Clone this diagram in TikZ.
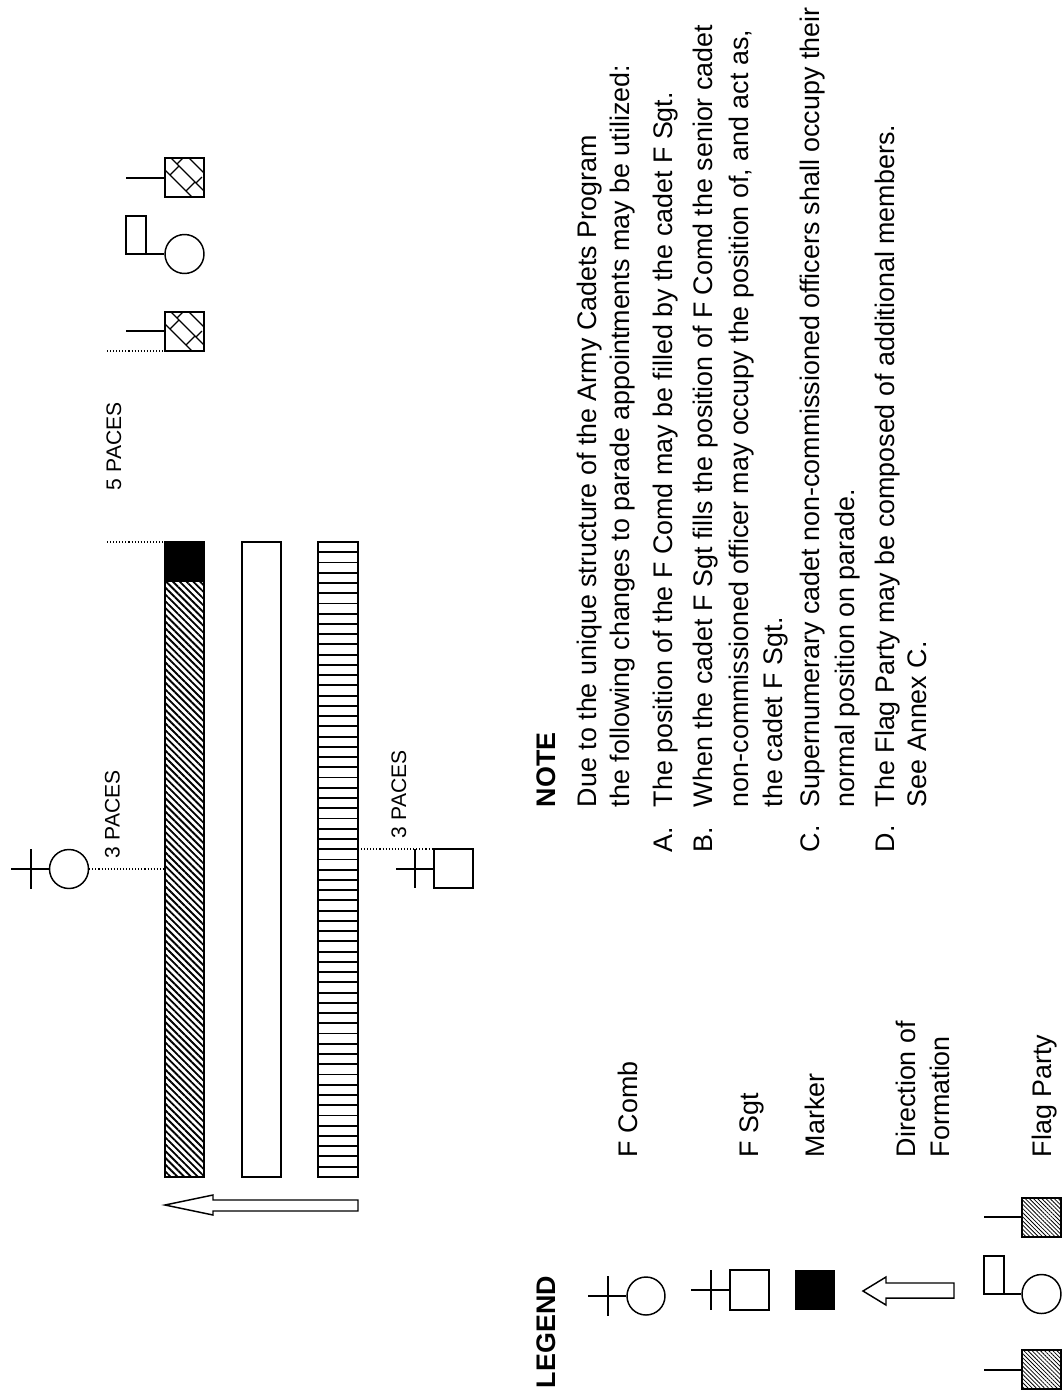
\documentclass[tikz,border=0pt]{standalone}
\usepackage{fontspec}
\setmainfont{Liberation Sans}
\usetikzlibrary{patterns.meta}
\newcommand\flagsq[2]{%
  \begin{scope}
    \clip (#1,#2) rectangle ++(39,39);
    \draw[line width=1pt] (#1+6,#2) -- ++(33,33);
    \draw[line width=1pt] (#1+24,#2) -- ++(15,15);
    \draw[line width=1pt] (#1,#2+12) -- ++(27,27);
    \draw[line width=1pt] (#1+12,#2+6) -- (#1+18,#2);
    \draw[line width=1pt] (#1+31,#2+25) -- (#1+37,#2+19);
    \draw[line width=1pt] (#1+14,#2+8) -- (#1+5,#2+17);
    \draw[line width=1pt] (#1+30,#2+24) -- (#1+21,#2+33);
  \end{scope}
  \draw (#1,#2) rectangle ++(39,39);}
\begin{document}
\begin{tikzpicture}[x=0.75pt,y=-0.75pt,line width=1.1pt,
  txt/.style={inner sep=0pt,outer sep=0pt,rotate=90,anchor=base west,font=\fontsize{20.14pt}{24pt}\selectfont},
  btxt/.style={txt,font=\fontsize{20.14pt}{24pt}\selectfont\bfseries},
  stxt/.style={txt,font=\fontsize{15.8pt}{19pt}\selectfont},
  dotline/.style={line width=0.8pt,dash pattern=on 0.8pt off 1.5pt},
  gflag/.style={pattern={Lines[angle=-45,distance=2.2pt,line width=0.6pt]}},
  hatch/.style={pattern={Lines[angle=-45,distance=3.6pt,line width=1.4pt]}},
  dirarrow/.style={draw,fill=white,line join=miter}
]
\useasboundingbox (0,0) rectangle (1064,1393);

% ---------- flag party (formation) ----------
\flagsq{165}{158}
\draw (126,178) -- (165,178);
\node[circle,draw,inner sep=0pt,minimum size=29.25pt] (fpc) at (184.5,254) {};
\draw (126,216) rectangle (146,254);
\draw (146,254) -- (fpc.west);
\flagsq{165}{312}
\draw (126,331) -- (165,331);
\coordinate (flagbot) at (165,351);
\coordinate (flagbotL) at (107,351);
\draw[dotline] (flagbotL) -- (flagbot);

% ---------- ranks ----------
\fill (165,542) rectangle (204,582);
\path[hatch] (165,582) rectangle (204,1177);
\draw (165,542) rectangle (204,1177);
\coordinate (rank1top) at (165,542);
\coordinate (rank1topL) at (107,542);
\draw[dotline] (rank1topL) -- (rank1top);
\draw (242,542) rectangle (281,1177);
\draw (318,542) rectangle (358,1177);
\foreach \k in {1,...,61} \draw[line width=1.4pt] (318,{542+10.24*\k}) -- (358,{542+10.24*\k});

\node[stxt] (five) at (121,490) {5 PACES};

% ---------- F Comd ----------
\node[circle,draw,inner sep=0pt,minimum size=29.25pt] (fcomd) at (69,869) {};
\draw (11,869) -- (fcomd.west);
\draw (31,849) -- (31,889);
\coordinate (rank1c) at (165,869);
\draw[dotline] (fcomd.east) -- (rank1c);
\node[stxt] (threeL) at (119.5,858) {3 PACES};

% ---------- F Sgt ----------
\draw (434,849) rectangle (473,888);
\draw (396,869) -- (434,869);
\draw (415,849) -- (415,888);
\coordinate (rank3c) at (358,849);
\coordinate (fsgtc) at (434,849);
\draw[dotline] (rank3c) -- (fsgtc);
\node[stxt] (threeR) at (406,838) {3 PACES};

% ---------- direction arrow ----------
\draw[dirarrow] (165,1205) -- (213,1195) -- (213,1200) -- (358,1200) -- (358,1211) -- (213,1211) -- (213,1215) -- cycle;

% ---------- NOTE ----------
\node[btxt] (note) at (555,807) {NOTE};
\node[txt] (l1) at (596.5,807) {Due to the unique structure of the Army Cadets Program};
\node[txt] (l2) at (629.5,807) {the following changes to parade appointments may be utilized:};
\node[txt] (la) at (672.5,852) {A.};
\node[txt] (a1) at (672.5,807) {The position of the F Comd may be filled by the cadet F Sgt.};
\node[txt] (lb) at (712.5,852) {B.};
\node[txt] (b1) at (712.5,807) {When the cadet F Sgt fills the position of F Comd the senior cadet};
\node[txt] (b2) at (748,807) {non-commissioned officer may occupy the position of, and act as,};
\node[txt] (b3) at (782.5,807) {the cadet F Sgt.};
\node[txt] (lc) at (819,852) {C.};
\node[txt] (c1) at (819,807) {Supernumerary cadet non-commissioned officers shall occupy their};
\node[txt] (c2) at (854,807) {normal position on parade.};
\node[txt] (ld) at (894,852) {D.};
\node[txt] (d1) at (894,807) {The Flag Party may be composed of additional members.};
\node[txt] (d2) at (926,807) {See Annex C.};

% ---------- LEGEND ----------
\node[btxt] (legend) at (555,1388) {LEGEND};
% F Comb
\node[circle,draw,inner sep=0pt,minimum size=28.5pt] (lgcomd) at (646,1296) {};
\draw (588,1296) -- (lgcomd.west);
\draw (608,1276) -- (608,1316);
\node[txt] (tcomb) at (637,1157) {F Comb};
% F Sgt
\draw (730,1270) rectangle (769,1310);
\draw (691,1290) -- (730,1290);
\draw (711,1270) -- (711,1310);
\node[txt] (tsgt) at (758,1157) {F Sgt};
% Marker
\fill (795,1270) rectangle (835,1310);
\node[txt] (tmark) at (824,1157) {Marker};
% Direction
\draw[dirarrow] (863,1291) -- (886,1277) -- (886,1283) -- (954,1283) -- (954,1298) -- (886,1298) -- (886,1305) -- cycle;
\node[txt] (tdir1) at (915,1157) {Direction of};
\node[txt] (tdir2) at (949,1157) {Formation};
% Flag party
\path[gflag] (1022,1198) rectangle (1061,1237);
\draw (1022,1198) rectangle (1061,1237);
\draw (984,1217) -- (1022,1217);
\node[circle,draw,inner sep=0pt,minimum size=29.25pt] (lgfp) at (1041.5,1294) {};
\draw (984,1256) rectangle (1004,1294);
\draw (1004,1294) -- (lgfp.west);
\path[gflag] (1022,1350) rectangle (1061,1389);
\draw (1022,1350) rectangle (1061,1389);
\draw (984,1370) -- (1022,1370);
\node[txt] (tflag) at (1051,1157) {Flag Party};
\end{tikzpicture}
\end{document}
